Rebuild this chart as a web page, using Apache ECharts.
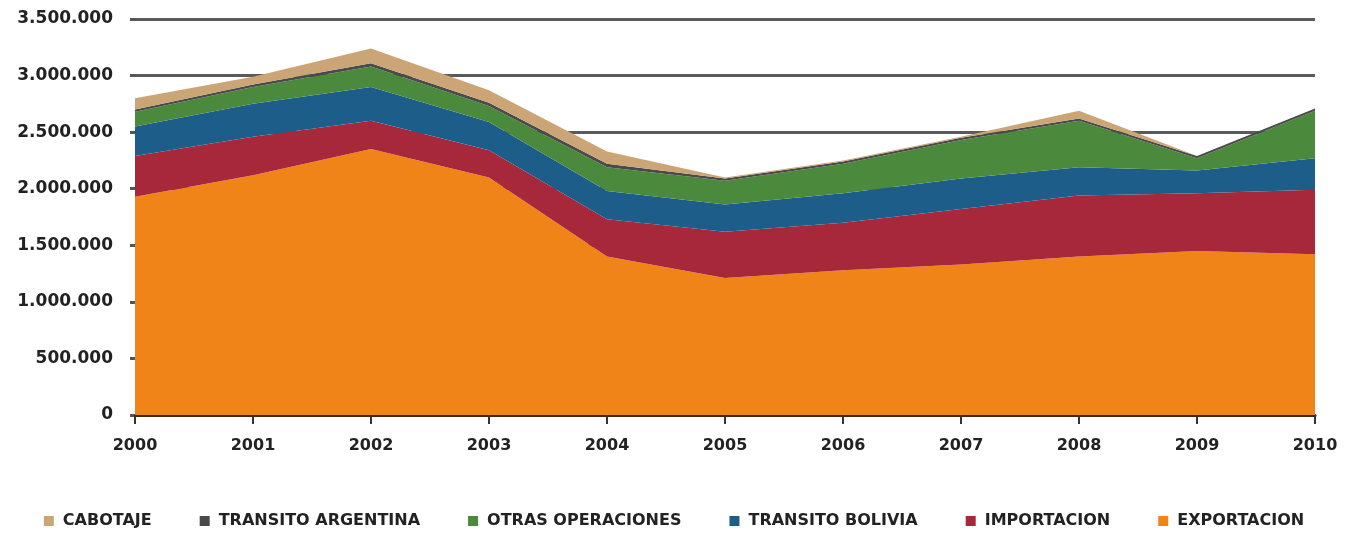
<!DOCTYPE html>
<html>
<head>
<meta charset="utf-8">
<script src="https://cdn.jsdelivr.net/npm/echarts@6/dist/echarts.min.js"></script>
<style>
  html, body { margin: 0; padding: 0; background: #fff; }
  #chart { width: 1348px; height: 534px; }
</style>
</head>
<body>
<div id="chart"></div>
<script>
// años
const years = ['2000', '2001', '2002', '2003', '2004', '2005', '2006', '2007', '2008', '2009', '2010']

// toneladas por tipo de operación
const exportacion = [1930000, 2120000, 2350000, 2100000, 1400000, 1210000, 1280000, 1330000, 1400000, 1450000, 1420000]
const importacion = [360000, 340000, 250000, 240000, 330000, 410000, 420000, 490000, 540000, 510000, 570000]
const transitoBolivia = [260000, 290000, 300000, 250000, 250000, 240000, 260000, 270000, 250000, 200000, 280000]
const otrasOperaciones = [130000, 150000, 180000, 140000, 210000, 210000, 260000, 340000, 410000, 110000, 420000]
const transitoArgentina = [20000, 20000, 30000, 30000, 30000, 20000, 20000, 20000, 20000, 20000, 20000]
const cabotaje = [100000, 70000, 130000, 110000, 110000, 10000, 10000, 10000, 70000, 0, 10000]

const legendOrder = ['CABOTAJE', 'TRANSITO ARGENTINA', 'OTRAS OPERACIONES', 'TRANSITO BOLIVIA', 'IMPORTACION', 'EXPORTACION']

const font = 'DejaVu Sans'

function fmt(v) {
  return String(v).replace(/\B(?=(\d{3})+(?!\d))/g, '.')
}

function area(name, data, color) {
  return {
    name: name,
    type: 'line',
    stack: 'total',
    data: data,
    showSymbol: false,
    symbol: 'none',
    lineStyle: { width: 0 },
    areaStyle: { color: color, opacity: 1 },
    itemStyle: { color: color },
  }
}

const chart = echarts.init(document.getElementById('chart'))
chart.setOption({
  animation: false,
  backgroundColor: '#fff',
  grid: { left: 135, right: 33, top: 19, bottom: 119 },
  legend: {
    data: legendOrder,
    left: 'center',
    top: 508,
    icon: 'rect',
    itemWidth: 10,
    itemHeight: 10,
    itemGap: 48,
    textStyle: { fontFamily: font, fontWeight: 'bold', fontSize: 16, color: '#222', padding: [0, 0, 0, 4] },
  },
  xAxis: {
    type: 'category',
    boundaryGap: false,
    data: years,
    axisLine: { lineStyle: { color: '#3a2a14', width: 3 } },
    axisTick: { show: true, length: 9, lineStyle: { color: '#333', width: 2 } },
    axisLabel: { margin: 23, fontFamily: font, fontWeight: 'bold', fontSize: 16, color: '#222' },
  },
  yAxis: {
    type: 'value',
    min: 0,
    max: 3500000,
    interval: 500000,
    axisLine: { show: false },
    axisTick: { show: true, length: 5, lineStyle: { color: '#555', width: 3 } },
    splitLine: { show: true, lineStyle: { color: '#5a5a5a', width: 3 } },
    axisLabel: { margin: 22, fontFamily: font, fontWeight: 'bold', fontSize: 17, color: '#222', formatter: fmt },
  },
  series: [
    area('EXPORTACION', exportacion, '#f08418'),
    area('IMPORTACION', importacion, '#a6283a'),
    area('TRANSITO BOLIVIA', transitoBolivia, '#1d5d8a'),
    area('OTRAS OPERACIONES', otrasOperaciones, '#4b8a3c'),
    area('TRANSITO ARGENTINA', transitoArgentina, '#4a4a4a'),
    area('CABOTAJE', cabotaje, '#cca576'),
  ],
})
</script>
</body>
</html>
